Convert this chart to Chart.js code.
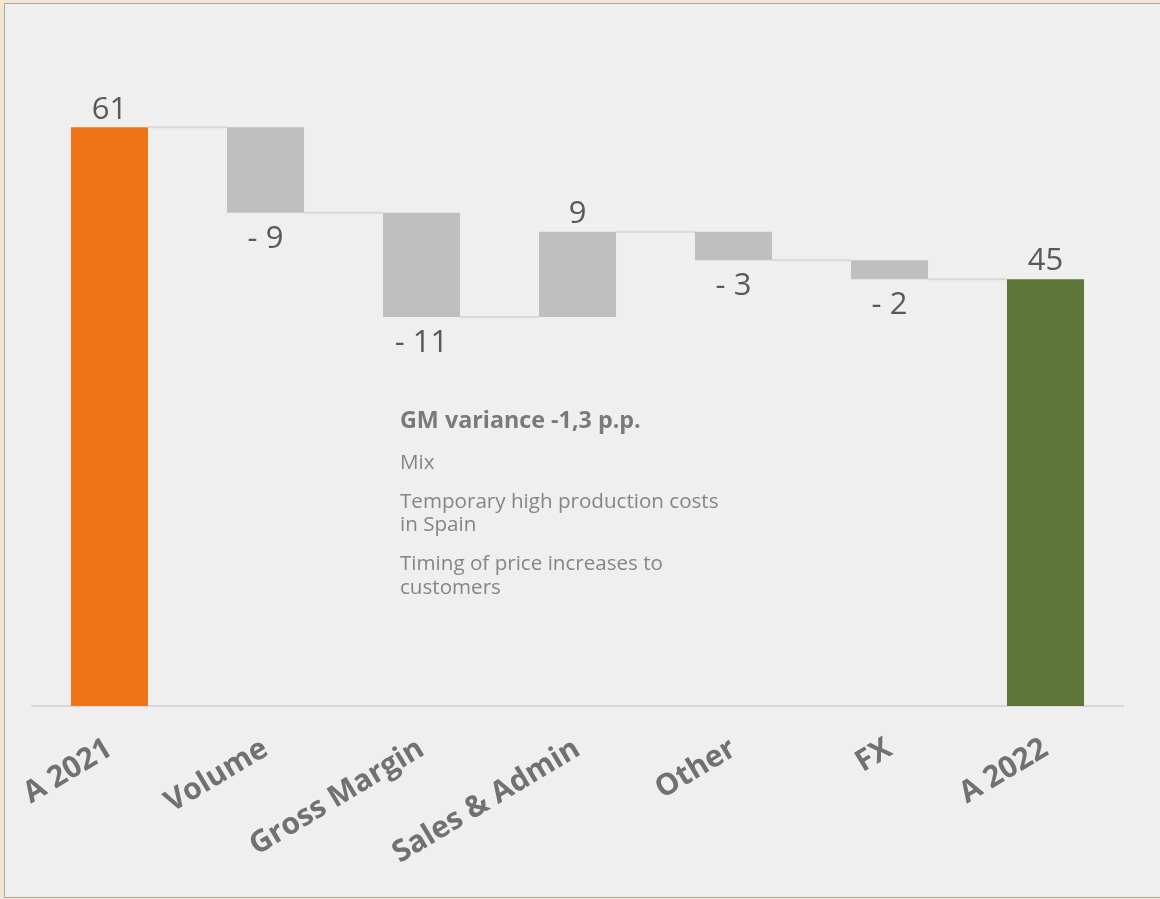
<!DOCTYPE html>
<html>
<head>
<meta charset="utf-8">
<script src="https://cdn.jsdelivr.net/npm/chart.js@4/dist/chart.umd.min.js"></script>
<style>
html,body{margin:0;padding:0;}
body{width:1160px;height:899px;overflow:hidden;background:#f3e6d2;position:relative;}
#panel{position:absolute;left:4px;top:3px;width:1170px;height:895px;background:#efefef;border:1px solid #a8a8a8;box-sizing:border-box;}
#wrap{position:absolute;left:0;top:0;width:1160px;height:899px;}
#note{position:absolute;left:400px;top:408px;width:322px;font-family:"Open Sans",sans-serif;color:#858585;font-size:20.6px;line-height:23.5px;}
#note .head{font-weight:bold;font-size:23.3px;color:#7a7a7a;margin-bottom:18px;}
#note p{margin:0 0 15.5px 0;}
</style>
</head>
<body>
<div id="panel"></div>
<div id="wrap"><canvas id="chart" width="1160" height="899"></canvas></div>
<div id="note">
<div class="head">GM variance -1,3 p.p.</div>
<p>Mix</p>
<p>Temporary high production costs in Spain</p>
<p>Timing of price increases to customers</p>
</div>
<script>
const categories=["A 2021","Volume","Gross Margin","Sales & Admin","Other","FX","A 2022"];
const values=[61,-9,-11,9,-3,-2,45];
const isTotal=[true,false,false,false,false,false,true];
const barColors=["#ee7417","#bfbfbf","#bfbfbf","#bfbfbf","#bfbfbf","#bfbfbf","#5e7638"];

/* floating ranges from the running total */
let run=0;
const ranges=values.map((v,i)=>{
if(isTotal[i]){run=v;return [0,v];}
const start=run;
run=run+v;
return [start,run];
});

const labelText=v=>v<0?"- "+Math.abs(v):String(v);

const waterfallExtras={
id:"waterfallExtras",
beforeDatasetsDraw(chart){
const ctx=chart.ctx;
const meta=chart.getDatasetMeta(0);
const y=chart.scales.y;
ctx.save();
ctx.strokeStyle="#d9d9d9";
ctx.lineWidth=2;
for(let i=0;i<meta.data.length-1;i++){
const a=meta.data[i],b=meta.data[i+1];
const py=y.getPixelForValue(ranges[i][1]);
ctx.beginPath();
ctx.moveTo(a.x+a.width/2,py);
ctx.lineTo(b.x-b.width/2,py);
ctx.stroke();
}
ctx.restore();
},
afterDatasetsDraw(chart){
const ctx=chart.ctx;
const meta=chart.getDatasetMeta(0);
const y=chart.scales.y;
ctx.save();
ctx.font='31px "Open Sans", sans-serif';
ctx.fillStyle="#595959";
ctx.textAlign="center";
meta.data.forEach((bar,i)=>{
const v=values[i];
if(v>=0){
const top=y.getPixelForValue(Math.max(...ranges[i]));
ctx.textBaseline="bottom";
ctx.fillText(labelText(v),bar.x,top-2);
}else{
const bottom=y.getPixelForValue(Math.min(...ranges[i]));
ctx.textBaseline="top";
ctx.fillText(labelText(v),bar.x,bottom+11);
}
});
ctx.restore();
}
};

new Chart(document.getElementById("chart"),{
type:"bar",
data:{
labels:categories,
datasets:[{
data:ranges,
backgroundColor:barColors,
borderWidth:0,
categoryPercentage:1,
barPercentage:0.494
}]
},
options:{
responsive:false,
animation:false,
layout:{padding:{left:31.5,right:36.5,top:42,bottom:0}},
plugins:{legend:{display:false},tooltip:{enabled:false}},
scales:{
x:{
grid:{display:false},
border:{display:true,color:"#d9d9d9",width:2},
ticks:{
color:"#737070",
maxRotation:31,
minRotation:31,
autoSkip:false,
padding:17,
font:{family:"Open Sans",size:30,weight:"bold"}
},
afterFit(axis){axis.height=193;axis.paddingLeft=0;axis.paddingRight=0;}
},
y:{display:false,min:0,max:70}
}
},
plugins:[waterfallExtras]
});
</script>
</body>
</html>
